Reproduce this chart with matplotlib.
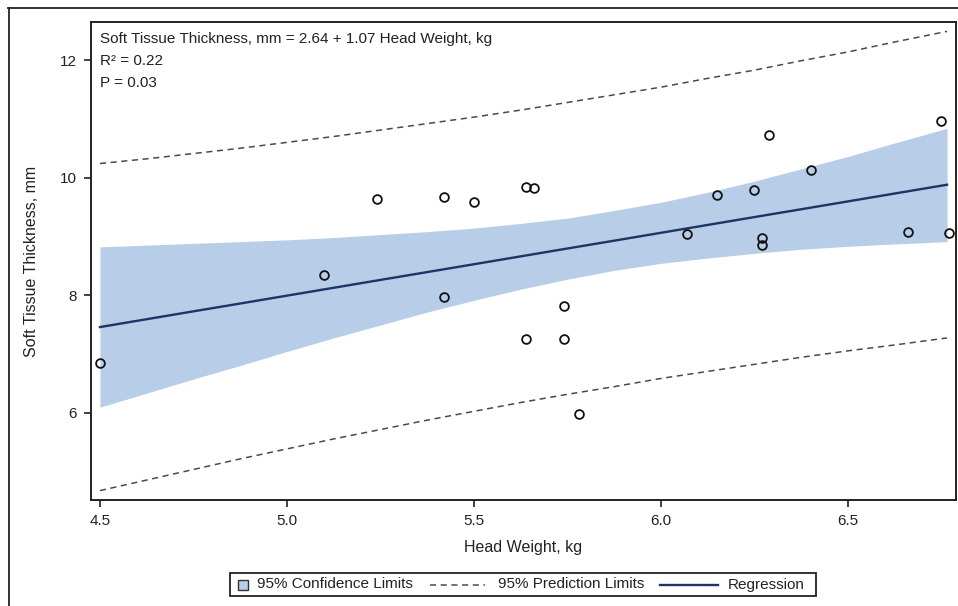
import matplotlib
matplotlib.use("Agg")
import matplotlib.pyplot as plt
from matplotlib.lines import Line2D
from matplotlib.patches import Rectangle

plt.rcParams['font.family'] = ['Liberation Sans', 'DejaVu Sans']

head_weight = [4.50, 5.10, 5.24, 5.42, 5.42, 5.50, 5.64, 5.66, 5.64, 5.74, 5.74,
               5.78, 6.07, 6.15, 6.25, 6.27, 6.27, 6.29, 6.40, 6.66, 6.75, 6.77]
thickness = [6.84, 8.35, 9.63, 9.67, 7.97, 9.59, 9.84, 9.83, 7.25, 7.26, 7.82,
             5.97, 9.04, 9.70, 9.79, 8.98, 8.85, 10.72, 10.13, 9.08, 10.96, 9.06]

# Regression line, confidence and prediction limits (read at sample x values)
band_x = [4.5, 4.625, 4.75, 4.875, 5.0, 5.125, 5.25, 5.375, 5.5, 5.625,
          5.75, 5.875, 6.0, 6.125, 6.25, 6.375, 6.5, 6.625, 6.765]
regression = [7.455, 7.589, 7.723, 7.856, 7.99, 8.124, 8.258, 8.391, 8.525, 8.659,
              8.793, 8.926, 9.06, 9.194, 9.328, 9.461, 9.595, 9.729, 9.879]
cl_lower = [6.09, 6.33, 6.57, 6.80, 7.04, 7.27, 7.49, 7.71, 7.91, 8.10,
            8.27, 8.42, 8.54, 8.63, 8.71, 8.78, 8.83, 8.87, 8.91]
cl_upper = [8.82, 8.85, 8.88, 8.91, 8.94, 8.98, 9.03, 9.08, 9.14, 9.22,
            9.31, 9.44, 9.58, 9.75, 9.94, 10.15, 10.36, 10.59, 10.84]
pl_lower = [4.67, 4.85, 5.03, 5.21, 5.38, 5.55, 5.71, 5.87, 6.02, 6.17,
            6.31, 6.44, 6.58, 6.70, 6.82, 6.94, 7.05, 7.15, 7.27]
pl_upper = [10.24, 10.32, 10.41, 10.50, 10.60, 10.70, 10.81, 10.92, 11.03, 11.15,
            11.28, 11.41, 11.54, 11.69, 11.83, 11.99, 12.14, 12.31, 12.49]

x_ticks = [4.5, 5.0, 5.5, 6.0, 6.5]
y_ticks = [6, 8, 10, 12]

stat_lines = ["Soft Tissue Thickness, mm = 2.64 + 1.07 Head Weight, kg",
              "R\u00b2 = 0.22",
              "P = 0.03"]
legend_labels = ["95% Confidence Limits", "95% Prediction Limits", "Regression"]

band_color = "#b8cde8"
reg_color = "#1c3564"
dash_color = "#4a4a4a"
ink = "#222222"
W, H = 958, 606

def fx(px):
    return px / W

def fy(py):
    return 1 - py / H

fig = plt.figure(figsize=(W / 100, H / 100), dpi=100)
ax = fig.add_axes([fx(91), fy(500), (956 - 91) / W, (500 - 22) / H])

ax.fill_between(band_x, cl_lower, cl_upper, color=band_color, lw=0, zorder=1)
ax.plot(band_x, pl_upper, color=dash_color, lw=1.1, ls=(0, (4, 3)), zorder=2)
ax.plot(band_x, pl_lower, color=dash_color, lw=1.1, ls=(0, (4, 3)), zorder=2)
ax.plot(band_x, regression, color=reg_color, lw=1.7, zorder=3)
ax.plot(head_weight, thickness, ls='none', marker='o', ms=6.3, mfc='none',
        mec='#111111', mew=1.3, zorder=4)

ax.set_xlim(4.476, 6.789)
ax.set_ylim(4.51, 12.65)
ax.set_xticks(x_ticks)
ax.set_xticklabels([f"{v:.1f}" for v in x_ticks])
ax.set_yticks(y_ticks)
ax.set_yticklabels([str(v) for v in y_ticks])
ax.tick_params(direction='out', length=5, width=1.2, labelsize=11, colors=ink, pad=5)
for s in ax.spines.values():
    s.set_linewidth(1.4)
    s.set_color(ink)

ax.set_xlabel("Head Weight, kg", fontsize=11.5, labelpad=9, color=ink)
ax.set_ylabel("Soft Tissue Thickness, mm", fontsize=11.5, labelpad=15, color=ink)

for i, line in enumerate(stat_lines):
    ax.text(0.0105, 1 - (10 + i * 22) / 478, line, transform=ax.transAxes,
            ha='left', va='top', fontsize=11, color=ink)

# legend drawn manually to match the compact layout
ly = 584.5
fig.add_artist(Rectangle((fx(230), fy(596)), (816 - 230) / W, 23 / H, transform=fig.transFigure,
                         facecolor='white', edgecolor=ink, lw=1.3))
fig.add_artist(Rectangle((fx(238), fy(ly + 5)), 10 / W, 10 / H, transform=fig.transFigure,
                         facecolor=band_color, edgecolor='#333333', lw=1.0))
fig.text(fx(257), fy(ly), legend_labels[0], ha='left', va='center', fontsize=11, color=ink)
fig.add_artist(Line2D([fx(430), fx(485)], [fy(ly), fy(ly)], color=dash_color, lw=1.1,
                      ls=(0, (4, 3)), transform=fig.transFigure))
fig.text(fx(498), fy(ly), legend_labels[1], ha='left', va='center', fontsize=11, color=ink)
fig.add_artist(Line2D([fx(660), fx(718)], [fy(ly), fy(ly)], color=reg_color, lw=1.7,
                      transform=fig.transFigure))
fig.text(fx(728), fy(ly), legend_labels[2], ha='left', va='center', fontsize=11, color=ink)

# outer frame
fig.add_artist(Line2D([fx(8), 1.0], [fy(8), fy(8)], color=ink, lw=1.3, transform=fig.transFigure))
fig.add_artist(Line2D([fx(9), fx(9)], [fy(8), 0.0], color=ink, lw=1.3, transform=fig.transFigure))

fig.savefig("out.png", dpi=100)
